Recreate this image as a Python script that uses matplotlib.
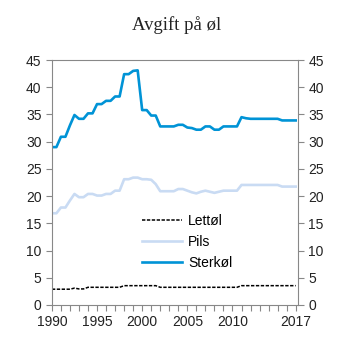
import numpy as np
import matplotlib
matplotlib.use("Agg")
import matplotlib.pyplot as plt

# half-year points, 1990.0 .. 2017.0
years = np.arange(1990, 2017.01, 0.5)

lettol = [2.9, 2.9, 2.9, 2.9, 2.9, 3.1, 2.95, 2.95, 3.25, 3.25,
          3.25, 3.25, 3.25, 3.25, 3.25, 3.25, 3.55, 3.55, 3.55, 3.55,
          3.55, 3.55, 3.55, 3.55, 3.25, 3.25, 3.25, 3.25, 3.25, 3.25,
          3.25, 3.25, 3.25, 3.25, 3.25, 3.25, 3.25, 3.25, 3.25, 3.25,
          3.25, 3.25, 3.55, 3.55, 3.55, 3.55, 3.55, 3.55, 3.55, 3.55,
          3.55, 3.55, 3.55, 3.55, 3.55]

pils = [16.85, 16.85, 17.9, 17.9, 19.2, 20.4, 19.8, 19.8, 20.4, 20.4,
        20.1, 20.1, 20.4, 20.4, 21.0, 21.0, 23.1, 23.1, 23.4, 23.4,
        23.1, 23.1, 23.0, 22.2, 20.9, 20.9, 20.9, 20.9, 21.3, 21.3,
        21.0, 20.7, 20.5, 20.8, 21.0, 20.8, 20.6, 20.8, 21.0, 21.0,
        21.0, 21.0, 22.05, 22.05, 22.05, 22.05, 22.05, 22.05, 22.05, 22.05,
        22.05, 21.75, 21.75, 21.75, 21.75]

sterkol = [29.0, 29.0, 30.9, 30.9, 33.0, 34.9, 34.2, 34.2, 35.2, 35.2,
           36.9, 36.9, 37.5, 37.5, 38.3, 38.3, 42.4, 42.4, 43.0, 43.1,
           35.8, 35.8, 34.8, 34.8, 32.8, 32.8, 32.8, 32.8, 33.1, 33.1,
           32.6, 32.5, 32.2, 32.2, 32.8, 32.8, 32.2, 32.2, 32.8, 32.8,
           32.8, 32.8, 34.5, 34.3, 34.2, 34.2, 34.2, 34.2, 34.2, 34.2,
           34.2, 33.9, 33.9, 33.9, 33.9]

xtick_years = [1990, 1995, 2000, 2005, 2010, 2017]

plt.rcParams['font.family'] = ['Liberation Sans', 'DejaVu Sans']

fig = plt.figure(figsize=(3.53, 3.53), dpi=100)
ax = fig.add_axes([0.147, 0.136, 0.697, 0.694])

ax.plot(years, lettol, color='black', lw=1.1, ls=(0, (2.2, 1.0)), label='Lettøl')
ax.plot(years, pils, color='#c9dbf3', lw=1.9, label='Pils')
ax.plot(years, sterkol, color='#0093d6', lw=1.9, label='Sterkøl')

ax.set_xlim(1990, 2017.25)
ax.set_ylim(0, 45)
ax.set_yticks(range(0, 46, 5))
ax.set_xticks(range(1990, 2018))
ax.set_xticklabels([str(y) if y in xtick_years else '' for y in range(1990, 2018)])

ax.tick_params(axis='both', direction='out', length=4, width=0.8, color='#888888',
               labelsize=10, labelcolor='#222222', pad=3.5)
ax.tick_params(axis='y', right=True, labelright=True)
for s in ax.spines.values():
    s.set_color('#888888')
    s.set_linewidth(0.8)

leg = ax.legend(loc='center', bbox_to_anchor=(0.55, 0.257), frameon=False,
                fontsize=10, handlelength=2.9, handletextpad=0.4, labelspacing=0.5)

fig.text(0.5, 0.93, 'Avgift på øl', ha='center', va='center',
         family='Liberation Serif', fontsize=13.5, color='#222222')

fig.savefig('out.png', dpi=100)
